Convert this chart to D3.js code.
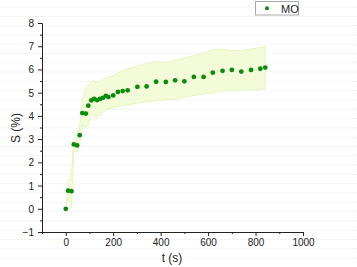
<html>
<head>
<script src="https://cdn.jsdelivr.net/npm/d3@7"></script>
<style>
  body { margin: 0; background: #fff; }
  text { font-family: "Liberation Sans", Arial, sans-serif; fill: #222; }
</style>
</head>
<body>
<div id="chart"></div>
<script>
// measured data (t in s, S in %)
const times = [0, 10, 24, 34, 48, 59, 70, 85, 95, 108, 120, 132, 144, 157, 169, 180,
               200, 220, 240, 261, 302, 341, 381, 422, 461, 500, 540, 581, 620, 661,
               700, 740, 781, 820, 841];
const sValues = [0, 0.78, 0.76, 2.77, 2.73, 3.17, 4.12, 4.10, 4.44, 4.67, 4.73, 4.68, 4.73, 4.78, 4.86, 4.81,
                 4.88, 5.03, 5.07, 5.10, 5.25, 5.27, 5.47, 5.46, 5.53, 5.49, 5.68, 5.68, 5.86, 5.94,
                 5.98, 5.91, 5.98, 6.03, 6.08];
const upperBand = [0, 1.1, 1.5, 3.0, 3.0, 3.6, 4.7, 5.2, 5.3, 5.49, 5.5, 5.44, 5.5, 5.56, 5.65, 5.68,
                   5.73, 5.85, 5.95, 6.03, 6.15, 6.25, 6.35, 6.3, 6.38, 6.5, 6.6, 6.7, 6.85, 6.88,
                   6.8, 6.82, 6.88, 6.95, 7.0];
const lowerBand = [0, 0.45, 0.05, 2.5, 2.45, 2.8, 3.6, 3.5, 3.6, 4.1, 4.0, 3.9, 4.05, 4.15, 4.25, 4.3,
                   4.34, 4.4, 4.45, 4.48, 4.55, 4.6, 4.65, 4.7, 4.72, 4.8, 4.87, 4.94, 5.0, 5.06,
                   5.08, 5.1, 5.12, 5.15, 5.16];
const xTicks = [0, 200, 400, 600, 800, 1000];
const yTicks = [-1, 0, 1, 2, 3, 4, 5, 6, 7, 8];
const seriesName = "MO";

const W = 357, H = 267;
const svg = d3.select("#chart").append("svg").attr("width", W).attr("height", H);

// faint scan lines in the background
svg.selectAll("line.bg").data(d3.range(7, H, 9.3)).enter().append("line")
   .attr("class", "bg")
   .attr("x1", 0).attr("x2", W)
   .attr("y1", d => d).attr("y2", d => d)
   .attr("stroke", "#f1f1f1").attr("stroke-width", 1)
   .attr("stroke-dasharray", "3,1");

const x = d3.scaleLinear().domain([-100, 1000]).range([42, 303]);
const y = d3.scaleLinear().domain([-1, 8]).range([232, 23]);

const pts = times.map((t, i) => ({t: t, s: sValues[i], hi: upperBand[i], lo: lowerBand[i]}));

// error band
const band = d3.area().x(d => x(d.t)).y0(d => y(d.lo)).y1(d => y(d.hi));
svg.append("path").datum(pts)
   .attr("d", band)
   .attr("fill", "#f3fbd8")
   .attr("stroke", "#e2f5b4")
   .attr("stroke-width", 0.8);

// axes
const xAxis = svg.append("g").attr("transform", "translate(0,232)");
xAxis.call(d3.axisBottom(x).tickValues(d3.range(-100, 1001, 100)).tickSize(2).tickFormat(""));
xAxis.call(g => g.selectAll(".tick").filter(d => xTicks.includes(d)).select("line").attr("y2", 4));
xAxis.selectAll(".tick").filter(d => xTicks.includes(d)).append("text")
     .attr("y", 14).attr("text-anchor", "middle").attr("font-size", 10)
     .attr("fill", "#222").text(d => d);

const yAxis = svg.append("g").attr("transform", "translate(42,0)");
yAxis.call(d3.axisLeft(y).tickValues(d3.range(-1, 8.01, 0.5)).tickSize(2).tickFormat(""));
yAxis.call(g => g.selectAll(".tick").filter(d => yTicks.includes(d)).select("line").attr("x2", -4));
yAxis.selectAll(".tick").filter(d => yTicks.includes(d)).append("text")
     .attr("x", -8).attr("dy", "0.35em").attr("text-anchor", "end").attr("font-size", 10)
     .attr("fill", "#222").text(d => d < 0 ? "\u2212" + Math.abs(d) : d);

svg.selectAll(".domain").attr("stroke", "#222").attr("stroke-width", 1);
svg.selectAll(".tick line").attr("stroke", "#222");

// points
svg.selectAll("circle.pt").data(pts).enter().append("circle")
   .attr("class", "pt")
   .attr("cx", d => x(d.t)).attr("cy", d => y(d.s))
   .attr("r", 2.4).attr("fill", "#0a8c0a");

// axis titles
svg.append("text").attr("x", 172).attr("y", 262).attr("text-anchor", "middle")
   .attr("font-size", 12).text("t (s)");
svg.append("text").attr("transform", "translate(20,128) rotate(-90)")
   .attr("text-anchor", "middle").attr("font-size", 12).text("S (%)");

// legend
const leg = svg.append("g");
leg.append("rect").attr("x", 255.5).attr("y", 1.5).attr("width", 43).attr("height", 13.5)
   .attr("fill", "#fff").attr("stroke", "#aaa").attr("stroke-width", 1);
leg.append("circle").attr("cx", 267).attr("cy", 8.3).attr("r", 2).attr("fill", "#0a8c0a");
leg.append("text").attr("x", 281).attr("y", 12.5).attr("font-size", 11).text(seriesName);
</script>
</body>
</html>
